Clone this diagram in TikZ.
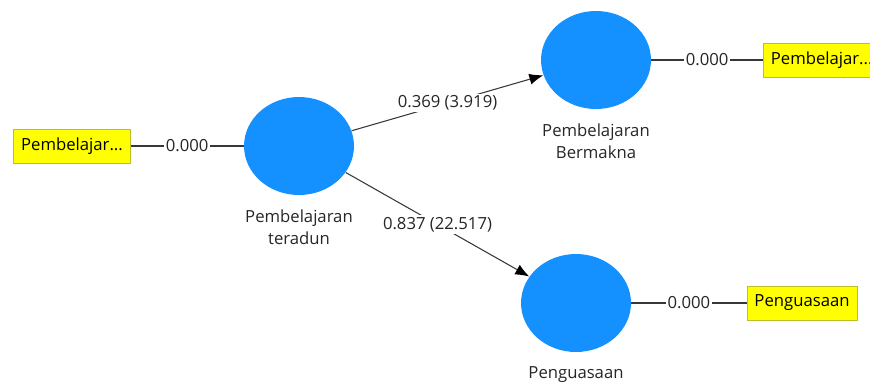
\documentclass[tikz,border=0pt]{standalone}
\usepackage{fontspec}
\setmainfont{Open Sans}
\usetikzlibrary{shapes.geometric, arrows.meta}
\definecolor{latentblue}{RGB}{20,144,255}
\definecolor{indyellow}{RGB}{255,255,0}
\definecolor{indborder}{RGB}{190,190,40}
\definecolor{pathgray}{RGB}{55,55,55}

\begin{document}
\begin{tikzpicture}[x=0.02cm, y=-0.02cm,
    font=\fontsize{9.5}{12.5}\selectfont,
    latent/.style={ellipse, fill=latentblue, minimum width=2.2cm, minimum height=1.96cm, inner sep=0pt},
    indicator/.style={draw=indborder, fill=indyellow, minimum height=0.68cm, inner xsep=0.15cm, inner ysep=0pt},
    link/.style={draw=pathgray, semithick},
    coef/.style={fill=white, inner sep=1pt, text=black!85},
    latentname/.style={align=center, text=black!85, label distance=0.16cm}]
    \useasboundingbox (0,0) rectangle (870,383);

    % Latent variables
    \node[latent, label={[latentname]below:Pembelajaran\\teradun}] (teradun) at (299,146) {};
    \node[latent, label={[latentname]below:Pembelajaran\\Bermakna}] (bermakna) at (596,60) {};
    \node[latent, label={[latentname]below:Penguasaan}] (penguasaan) at (576,303) {};

    % Indicators
    \node[indicator] (ind1) at (72,146) {Pembelajar...};
    \node[indicator, anchor=west] (ind2) at (763,60) {Pembelajar...};
    \node[indicator] (ind3) at (802,303) {Penguasaan};

    % Outer loadings
    \draw[link] (ind1) -- node[coef] {0.000} (teradun);
    \draw[link] (bermakna) -- node[coef] {0.000} (ind2);
    \draw[link] (penguasaan) -- node[coef] {0.000} (ind3);

    % Path coefficients
    \draw[link, -{Latex[length=0.28cm, width=0.22cm, black]}] (teradun) -- node[coef] {0.369 (3.919)} (bermakna);
    \draw[link, -{Latex[length=0.28cm, width=0.22cm, black]}] (teradun) -- node[coef] {0.837 (22.517)} (penguasaan);
\end{tikzpicture}
\end{document}
